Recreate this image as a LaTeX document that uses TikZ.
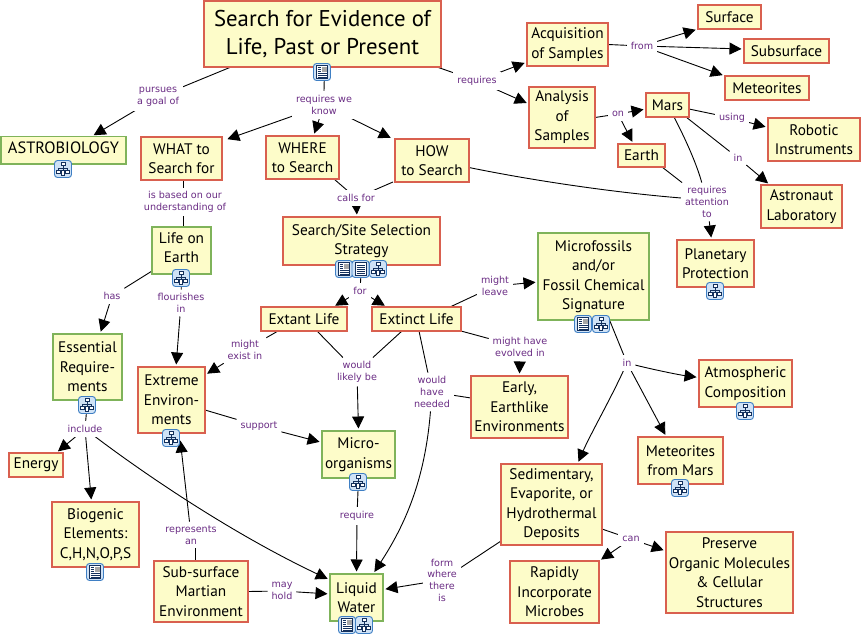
\documentclass[tikz,border=0pt]{standalone}
\usepackage{fontspec}
\setmainfont{PT Sans}
\newfontfamily\lblfont{DejaVu Sans}
\usetikzlibrary{arrows.meta}
\pgfdeclarelayer{bg}
\pgfsetlayers{bg,main}
\definecolor{boxfill}{HTML}{FDFCC9}
\definecolor{redline}{HTML}{D9604F}
\definecolor{greenline}{HTML}{7FB35A}
\definecolor{lblcol}{HTML}{6A2C84}
\definecolor{iconfill}{HTML}{CFE2F6}
\definecolor{iconedge}{HTML}{3F7FC4}
\definecolor{glyph}{HTML}{14305C}
\tikzset{
  cbase/.style={rectangle,fill=boxfill,line width=1.5pt,align=center,inner sep=0pt,outer sep=0pt,
     font=\fontsize{15.3}{19.5}\selectfont},
  redbox/.style={cbase,draw=redline},
  greenbox/.style={cbase,draw=greenline},
  title/.style={font=\fontsize{22.8}{28}\selectfont},
  lbl/.style={rectangle,fill=white,align=center,inner sep=4pt,outer sep=0pt,text=lblcol,
     font=\lblfont\fontsize{9.6}{11.7}\selectfont},
  link/.style={draw=black,line width=.9pt},
  arr/.style={link,-{Triangle[length=12pt,width=12pt]},shorten >=2.5pt},
  iconbase/.style={rounded corners=3pt,fill=iconfill,draw=iconedge,line width=.9pt},
  gl/.style={draw=glyph,line width=.6pt},
  mapicon/.pic={
    \draw[iconbase] (-8.5,-8.5) rectangle (8.5,8.5);
    \draw[gl,fill=white] (-2.2,-6.5) rectangle (2.2,-3.4);
    \draw[gl] (0,-3.4) -- (0,-1) (-4.5,-1) -- (4.5,-1) (-4.5,-1) -- (-4.5,1) (4.5,-1) -- (4.5,1) (0,-1) -- (0,1);
    \draw[gl,fill=white] (-6.5,1) rectangle (-2.7,4);
    \draw[gl,fill=white] (2.7,1) rectangle (6.5,4);
    \draw[gl,fill=white] (-1.6,1) rectangle (1.6,6.5);
  },
  docicon/.pic={
    \draw[iconbase] (-8.5,-8.5) rectangle (8.5,8.5);
    \draw[gl,fill=white] (-5.5,-6.5) rectangle (5.5,6.5);
    \draw[gl] (-4,-4) -- (4,-4) (-4,-2) -- (4,-2) (-4,0) -- (4,0) (-4,2) -- (4,2) (-4,4) -- (4,4);
  },
  imgicon/.pic={
    \draw[iconbase] (-8.5,-8.5) rectangle (8.5,8.5);
    \draw[gl,fill=white] (-5.5,-6.5) rectangle (5.5,6.5);
    \fill[gray!70] (-.5,-5.5) rectangle (4.5,-.5);
    \draw[gl] (-4.5,-4.5) -- (-1.5,-4.5) (-4.5,-2.5) -- (-1.5,-2.5) (-4.5,-.5) -- (-1.5,-.5) (-4.5,1.5) -- (4.5,1.5) (-4.5,3.5) -- (4.5,3.5) (-4.5,5) -- (4.5,5);
  }
}
\newcommand{\cbox}[7][]{%
  \pgfmathsetmacro{\bcx}{(#4+#6)/2}\pgfmathsetmacro{\bcy}{(#5+#7)/2}%
  \pgfmathsetmacro{\bw}{#6-#4}\pgfmathsetmacro{\bh}{#7-#5}%
  \node[#2,minimum width=\bw pt,minimum height=\bh pt,#1] (#3) at (\bcx,\bcy) {\cboxtext};}
\begin{document}
\begin{tikzpicture}[x=1pt,y=-1pt]
\useasboundingbox (0,0) rectangle (863,637);
\newcommand{\cboxtext}{}
% concepts
\def\mk#1#2#3#4#5#6#7{\renewcommand{\cboxtext}{#7}\cbox{#1}{#2}{#3}{#4}{#5}{#6}}
\renewcommand{\cboxtext}{Search for Evidence of\\Life, Past or Present}\cbox[title]{redbox}{goal}{204}{1}{441}{67}
\mk{greenbox}{astro}{1}{136.5}{126}{164}{\fontsize{16.4}{19.5}\selectfont ASTROBIOLOGY\rule[-6pt]{0pt}{1pt}}
\mk{redbox}{what}{141}{137}{222}{180}{WHAT to\\Search for}
\mk{redbox}{where}{266}{136}{339}{179}{WHERE\\to Search}
\mk{redbox}{how}{395}{139}{469}{182}{HOW\\to Search}
\mk{redbox}{strategy}{283}{217}{440}{265}{Search/Site Selection\\Strategy}
\mk{greenbox}{life}{152}{227}{211}{274}{Life on\\Earth\rule[-6pt]{0pt}{1pt}}
\mk{redbox}{extant}{261}{307}{347}{331}{Extant Life}
\mk{redbox}{extinct}{372}{307}{461}{331}{Extinct Life}
\mk{greenbox}{essential}{53}{334}{122}{400}{Essential\\Require-\\ments}
\mk{redbox}{extreme}{138}{367}{205}{433}{Extreme\\Environ-\\ments}
\mk{greenbox}{microbes}{322}{431}{395}{478}{Micro-\\organisms}
\mk{redbox}{energy}{9}{453}{63}{477}{Energy}
\mk{redbox}{biogenic}{52}{502}{139}{567}{Biogenic\\Elements:\\C,H,N,O,P,S}
\mk{redbox}{subsurf}{154}{561}{248}{622}{Sub-surface\\Martian\\Environment}
\mk{greenbox}{water}{330}{574}{383}{621}{Liquid\\Water}
\mk{redbox}{acq}{527}{23}{608}{66}{Acquisition\\of Samples}
\mk{redbox}{surface}{698}{5}{761}{29}{Surface}
\mk{redbox}{subs}{744}{39}{829}{63}{Subsurface}
\mk{redbox}{meteor}{725}{76}{809}{100}{Meteorites}
\mk{redbox}{analysis}{529}{87}{595}{148}{Analysis\\of\\Samples}
\mk{redbox}{mars}{646}{93}{689}{117}{Mars}
\mk{redbox}{earth}{618}{144}{665}{167}{Earth}
\mk{redbox}{robotic}{768}{118}{860}{161}{Robotic\\Instruments}
\mk{redbox}{astronaut}{761}{185}{842}{228}{Astronaut\\Laboratory}
\mk{redbox}{planetary}{677}{240}{754}{287}{Planetary\\Protection}
\mk{greenbox}{fossil}{538}{233}{649}{320}{Microfossils\\and/or\\Fossil Chemical\\Signature}
\mk{redbox}{atmos}{699}{360}{792}{407}{Atmospheric\\Composition}
\mk{redbox}{metmars}{638}{437}{723}{484}{Meteorites\\from Mars}
\mk{redbox}{early}{471}{376}{568}{438}{Early,\\Earthlike\\Environments}
\mk{redbox}{sedim}{501}{464}{602}{545}{Sedimentary,\\Evaporite, or\\Hydrothermal\\Deposits}
\mk{redbox}{rapid}{510}{561}{599}{623}{Rapidly\\Incorporate\\Microbes}
\mk{redbox}{preserve}{666}{532}{793}{613}{Preserve\\Organic Molecules\\\& Cellular\\Structures}
% linking phrases
\node[lbl] (pursues) at (158,97) {pursues\\a goal of};
\node[lbl] (reqknow) at (324,105) {requires we\\know};
\node[lbl] (requires) at (477,81) {requires};
\node[lbl] (from) at (642,46) {from};
\node[lbl] (on) at (618,114) {on};
\node[lbl] (using) at (732,118) {using};
\node[lbl] (inastro) at (738,158) {in};
\node[lbl] (reqatt) at (707,202) {requires\\attention\\to};
\node[lbl] (based) at (185,202) {is based on our\\understanding of};
\node[lbl] (calls) at (356,198) {calls for};
\node[lbl] (has) at (112,296) {has};
\node[lbl] (flour) at (181,303) {flourishes\\in};
\node[lbl] (for) at (360,291) {for};
\node[lbl] (leave) at (495,286) {might\\leave};
\node[lbl] (exist) at (245,350) {might\\exist in};
\node[lbl] (would) at (357,372) {would\\likely be};
\node[lbl] (needed) at (432,392) {would\\have\\needed};
\node[lbl] (evolved) at (520,347) {might have\\evolved in};
\node[lbl] (infossil) at (627,363) {in};
\node[lbl] (include) at (85,429) {include};
\node[lbl] (support) at (259,426) {support};
\node[lbl] (represents) at (191,535) {represents\\an};
\node[lbl] (require) at (357,516) {require};
\node[lbl] (mayhold) at (282,591) {may\\hold};
\node[lbl] (form) at (442,580) {form\\where\\there\\is};
\node[lbl] (can) at (631,539) {can};
% resource icons
\pic at (322,72) {imgicon};
\pic at (63,169) {mapicon};
\pic at (181,278) {mapicon};
\pic at (344,269) {imgicon};
\pic at (360.5,269) {docicon};
\pic at (378,269) {mapicon};
\pic at (715,291) {mapicon};
\pic at (583,324) {imgicon};
\pic at (601,324) {mapicon};
\pic at (87,405) {mapicon};
\pic at (171,438) {mapicon};
\pic at (358,482) {mapicon};
\pic at (95,572) {imgicon};
\pic at (347,625) {imgicon};
\pic at (364,625) {mapicon};
\pic at (745,411) {mapicon};
\pic at (680,488) {mapicon};
% connectors
\begin{pgfonlayer}{bg}
\fill[white] (0,0) rectangle (863,637);
\draw[link] ([xshift=27pt]goal.south west) -- (pursues);
\draw[arr] (pursues) -- ([xshift=28pt]astro.north);
\draw[link] ([xshift=2pt]goal.south) -- (reqknow.north);
\draw[arr] (reqknow) -- ([xshift=3pt,yshift=-3pt]what.north east);
\draw[arr] (reqknow) -- ([xshift=11pt]where.north);
\draw[arr] (reqknow) -- ([xshift=-2pt]how.north west);
\draw[link] ([xshift=-4pt]goal.south east) -- (requires);
\draw[arr] (requires) -- ([yshift=4pt]acq.south west);
\draw[arr] (requires) -- ([yshift=-17pt]analysis.north west);
\draw[link] (acq.east) -- (from);
\draw[arr] (from) -- (surface.south west);
\draw[arr] (from) -- ([yshift=2pt]subs.west);
\draw[arr] (from) -- (meteor.north west);
\draw[link] (analysis.east) -- (on);
\draw[arr] (on) -- ([yshift=-4pt]mars.west);
\draw[arr] (on) -- ([xshift=-8pt]earth.north);
\draw[link] ([yshift=-4pt]mars.east) -- (using);
\draw[arr] (using) -- ([yshift=-9.5pt]robotic.north west);
\draw[link] ([xshift=-3pt]mars.south east) -- (inastro);
\draw[arr] (inastro) -- ([xshift=9pt]astronaut.north west);
\draw[link] ([xshift=6.5pt]mars.south) .. controls (686,140) and (697,165) .. (reqatt);
\draw[link] ([xshift=-3pt]earth.south east) -- (reqatt);
\draw[link] ([yshift=-7pt]how.east) .. controls (540,182) and (620,193) .. ([yshift=4pt]reqatt.west);
\draw[arr] (reqatt) -- ([xshift=-4pt]planetary.north);
\draw[link] ([xshift=1.5pt]what.south) -- ([xshift=-2pt]based.north);
\draw[link] ([xshift=-2pt]based.south) -- ([xshift=1.5pt]life.north);
\draw[link] ([xshift=-5pt]where.south east) -- (calls);
\draw[link] ([xshift=-2pt]how.south west) -- (calls);
\draw[arr] (calls) -- ([xshift=-4.5pt]strategy.north);
\draw[link] ([yshift=3pt]life.south west) -- (has);
\draw[arr] (has) -- ([xshift=12.5pt]essential.north);
\draw[link] (life.south) -- (flour);
\draw[arr] (flour) -- ([xshift=4.5pt]extreme.north);
\draw[link] (strategy.south) -- (for);
\draw[arr] (for) -- ([xshift=29pt]extant.north);
\draw[arr] (for) -- ([xshift=-29.5pt]extinct.north);
\draw[link] ([xshift=17pt]extant.south west) -- (exist);
\draw[arr] (exist) -- ([yshift=-8pt]extreme.north east);
\draw[link] ([xshift=-30pt]extant.south east) -- (would);
\draw[link] ([xshift=30pt]extinct.south west) -- (would);
\draw[arr] (would) -- (microbes.north);
\draw[link] ([xshift=47pt]extinct.south west) -- (needed);
\draw[link] ([yshift=-22pt]early.north west) -- (needed);
\draw[arr] (needed) .. controls (425,480) and (405,525) .. ([xshift=-10pt]water.north east);
\draw[link] ([xshift=-11pt]extinct.north east) -- (leave);
\draw[arr] (leave) -- ([yshift=-5.5pt]fossil.west);
\draw[link] (extinct.south east) -- (evolved);
\draw[arr] (evolved) -- (early.north);
\draw[link] ([xshift=16pt]fossil.south) -- (infossil);
\draw[arr] (infossil) .. controls (655,370) and (680,375) .. ([yshift=6pt]atmos.west);
\draw[arr] (infossil) -- ([xshift=28.5pt]metmars.north west);
\draw[arr] (infossil) .. controls (610,400) and (590,435) .. ([xshift=26pt]sedim.north);
\draw[link] ([yshift=16pt]sedim.south east) -- (can);
\draw[arr] (can) -- ([yshift=-19pt]preserve.north west);
\draw[arr] (can) -- (rapid.north east);
\draw[link] ([yshift=4pt]sedim.south west) -- (form);
\draw[arr] (form) -- ([yshift=8pt]water.east);
\draw[link] (subsurf.east) -- (mayhold);
\draw[arr] (mayhold) -- ([yshift=3.5pt]water.west);
\draw[link] (microbes.south) -- (require);
\draw[arr] (require) -- (water.north);
\draw[link] ([yshift=-10pt]extreme.east) -- (support);
\draw[arr] (support) -- ([yshift=12pt]microbes.west);
\draw[link] (essential.south) -- (include);
\draw[arr] (include) -- ([xshift=20pt]energy.north);
\draw[arr] (include) -- ([xshift=-4pt]biogenic.north);
\draw[arr] (include) .. controls (150,478) and (235,535) .. ([yshift=-6pt]water.north west);
\draw[link] ([xshift=-6pt]subsurf.north) -- ([xshift=4pt]represents.south);
\draw[arr] (represents) -- ([xshift=8.5pt,yshift=-5pt]extreme.south);
\end{pgfonlayer}
\end{tikzpicture}
\end{document}
